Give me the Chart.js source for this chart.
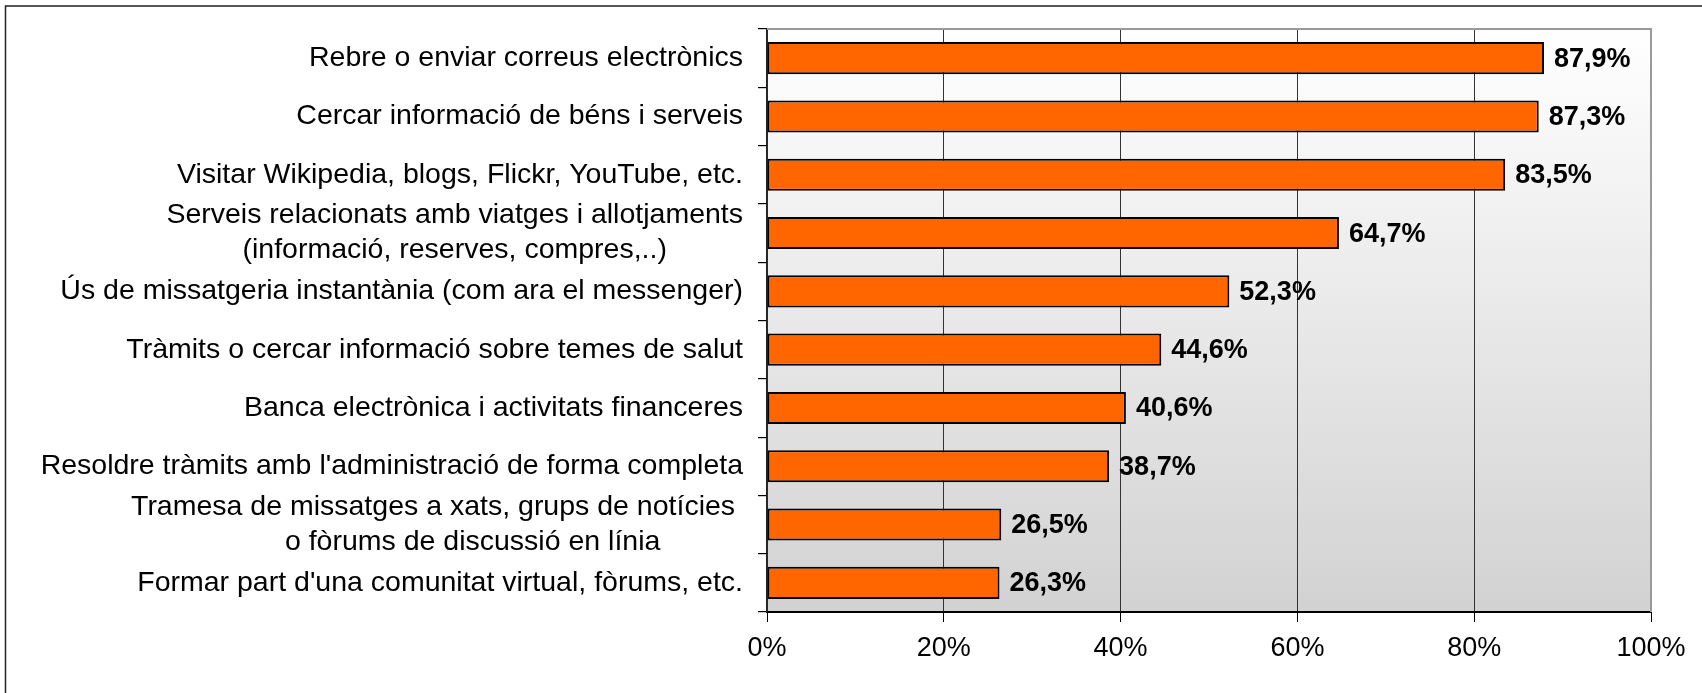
<!DOCTYPE html>
<html>
<head>
<meta charset="utf-8">
<script src="https://cdn.jsdelivr.net/npm/chart.js@4.4.0/dist/chart.umd.min.js"></script>
<style>
  html, body { margin: 0; padding: 0; background: #fff; }
</style>
</head>
<body>
<canvas id="chart" width="1702" height="693"></canvas>
<script>
// categories (multi-line labels are arrays of lines)
var categories = [
    ['Rebre o enviar correus electrònics'],
    ['Cercar informació de béns i serveis'],
    ['Visitar Wikipedia, blogs, Flickr, YouTube, etc.'],
    ['Serveis relacionats amb viatges i allotjaments', '(informació, reserves, compres,..)'],
    ['Ús de missatgeria instantània (com ara el messenger)'],
    ['Tràmits o cercar informació sobre temes de salut'],
    ['Banca electrònica i activitats financeres'],
    ["Resoldre tràmits amb l'administració de forma completa"],
    ['Tramesa de missatges a xats, grups de notícies ', '         o fòrums de discussió en línia'],
    ["Formar part d'una comunitat virtual, fòrums, etc."]
];
var values = [87.9, 87.3, 83.5, 64.7, 52.3, 44.6, 40.6, 38.7, 26.5, 26.3];
var xTicks = [0, 20, 40, 60, 80, 100];

var FONT = '"Liberation Sans", Arial, sans-serif';

function pct(v) {
    return v.toFixed(1).replace('.', ',') + '%';
}

// background gradient of the plot + outer frame
var backdrop = {
    id: 'backdrop',
    beforeDraw: function(chart) {
        var c = chart.ctx, a = chart.chartArea;
        c.save();
        var g = c.createLinearGradient(0, a.top, 0, a.bottom);
        g.addColorStop(0, '#ffffff');
        g.addColorStop(1, '#d2d2d2');
        c.fillStyle = g;
        c.fillRect(a.left, a.top, a.right - a.left, a.bottom - a.top);
        c.restore();
    },
    afterDraw: function(chart) {
        var c = chart.ctx, a = chart.chartArea;
        c.save();
        // grey plot border top / right
        c.strokeStyle = '#9a9a9a';
        c.lineWidth = 2;
        c.beginPath();
        c.moveTo(a.left, a.top);
        c.lineTo(a.right, a.top);
        c.lineTo(a.right, a.bottom);
        c.stroke();

        // outer frame (left and top edges)
        c.strokeStyle = '#222';
        c.lineWidth = 1.5;
        c.beginPath();
        c.moveTo(5.5, 700);
        c.lineTo(5.5, 6);
        c.lineTo(1702, 6);
        c.stroke();

        // category labels: block right-aligned, lines centred in the block
        var yScale = chart.scales.y;
        c.font = '28.5px ' + FONT;
        c.fillStyle = '#000';
        c.textBaseline = 'middle';
        c.textAlign = 'center';
        var rightEdge = a.left - 24;
        var lineH = 35;
        categories.forEach(function(lines, i) {
            var cy = yScale.getPixelForValue(i);
            var w = 0;
            lines.forEach(function(l) { w = Math.max(w, c.measureText(l).width); });
            var cx = rightEdge - w / 2;
            var y0 = cy - (lines.length - 1) * lineH / 2;
            lines.forEach(function(l, k) {
                c.fillText(l, cx, y0 + k * lineH);
            });
        });

        // value labels at bar ends
        var meta = chart.getDatasetMeta(0);
        c.font = 'bold 27px ' + FONT;
        c.textAlign = 'left';
        meta.data.forEach(function(bar, i) {
            c.fillText(pct(values[i]), bar.x + 10, bar.y + 1);
        });
        c.restore();
    }
};

var ctx = document.getElementById('chart').getContext('2d');
var myChart = new Chart(ctx, {
    type: 'bar',
    data: {
        labels: categories,
        datasets: [{
            data: values,
            backgroundColor: '#ff6600',
            borderColor: '#000',
            borderWidth: 2,
            borderSkipped: false,
            categoryPercentage: 1,
            barPercentage: 0.55
        }]
    },
    options: {
        indexAxis: 'y',
        responsive: false,
        animation: false,
        devicePixelRatio: 1,
        layout: { padding: { top: 29, right: 51, bottom: 0, left: 0 } },
        plugins: {
            legend: { display: false },
            tooltip: { enabled: false }
        },
        scales: {
            x: {
                min: 0,
                max: 100,
                afterBuildTicks: function(scale) {
                    scale.ticks = xTicks.map(function(v) { return { value: v }; });
                },
                afterFit: function(scale) { scale.height = 81; },
                ticks: {
                    callback: function(v) { return v + '%'; },
                    color: '#000',
                    font: { family: FONT, size: 27 },
                    padding: 10,
                    maxRotation: 0
                },
                grid: {
                    color: '#333',
                    lineWidth: 1,
                    tickLength: 10,
                    tickColor: '#000'
                },
                border: { color: '#000', width: 2 }
            },
            y: {
                afterFit: function(scale) { scale.width = 767; },
                ticks: { display: false },
                grid: {
                    drawOnChartArea: false,
                    offset: true,
                    tickLength: 9,
                    color: '#000',
                    lineWidth: 1.2
                },
                border: { color: '#222', width: 1.5 }
            }
        }
    },
    plugins: [backdrop]
});
</script>
</body>
</html>
